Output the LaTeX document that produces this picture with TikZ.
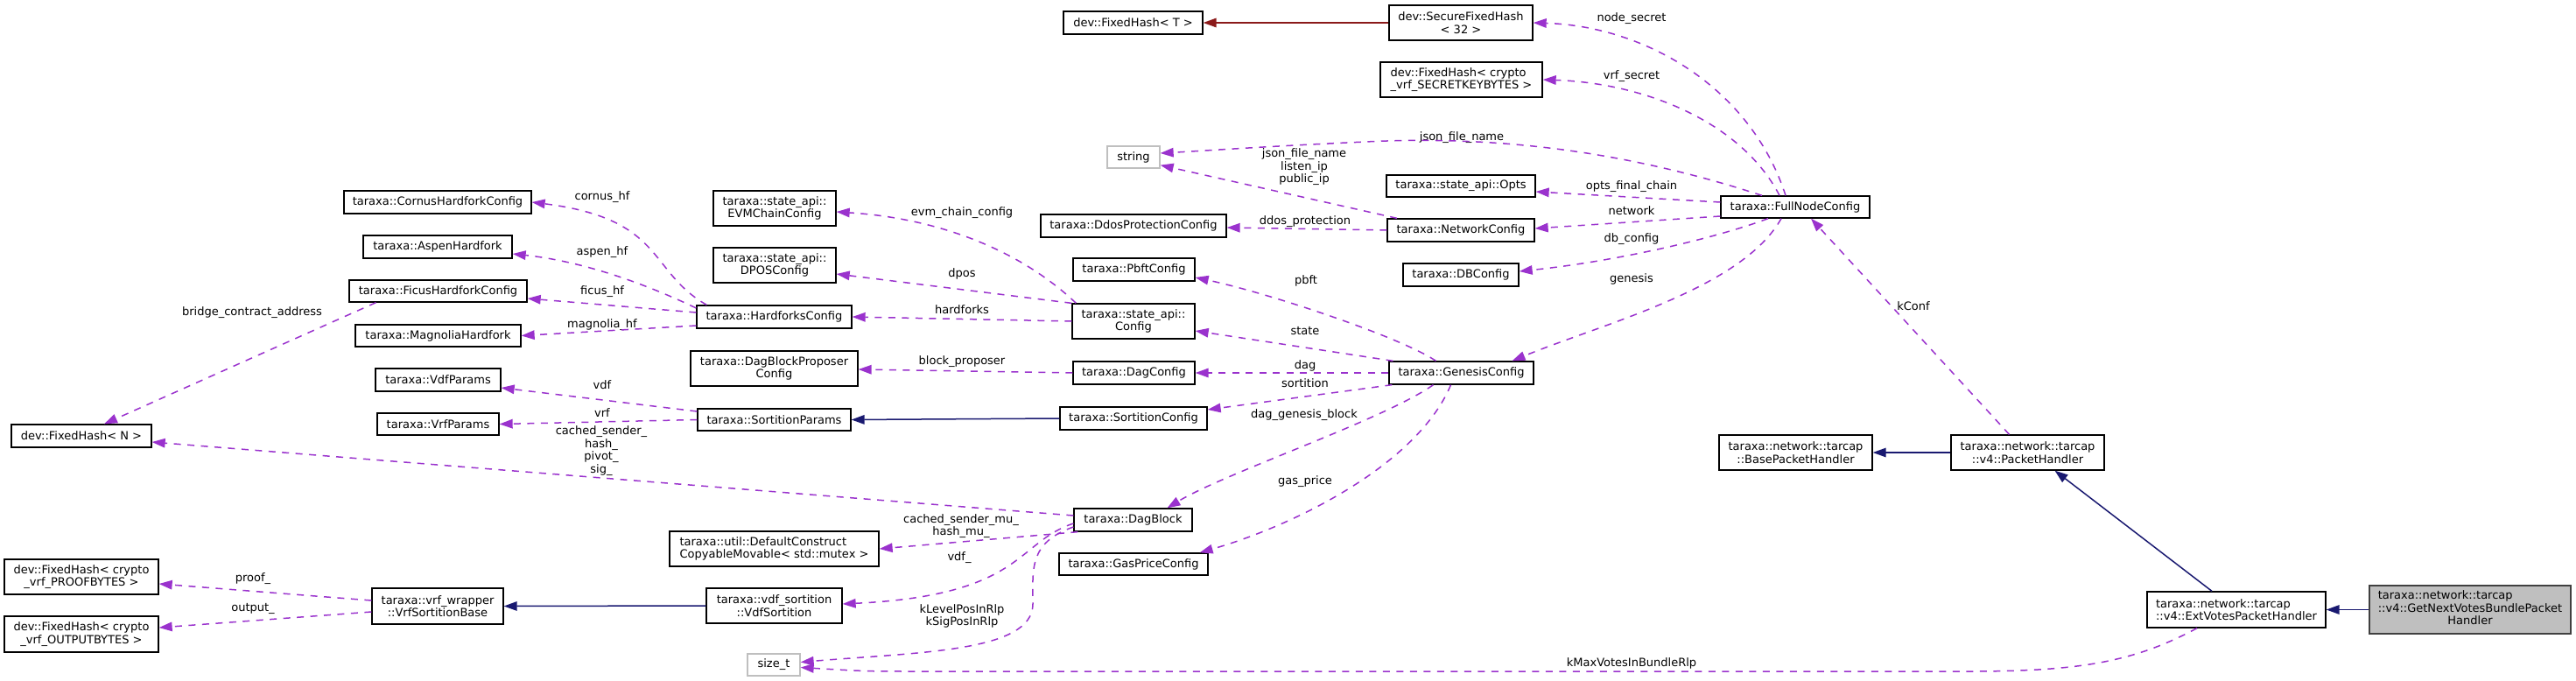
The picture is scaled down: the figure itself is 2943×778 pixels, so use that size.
\documentclass[tikz,border=0pt]{standalone}
\usepackage{fontspec}
\setmainfont{DejaVu Sans}
\usetikzlibrary{arrows.meta}
\definecolor{UseOrchid}{HTML}{9A32CD}
\definecolor{BaseNavy}{HTML}{191970}
\definecolor{TmplRed}{HTML}{8B1A1A}
\definecolor{BoxGray}{HTML}{BFBFBF}
\definecolor{BoxEdge}{HTML}{404040}

\begin{document}
\begin{tikzpicture}[x=1pt,y=-1pt,
    cls/.style={draw=black,line width=1.3pt,fill=white,inner sep=0pt,align=center,font=\fontsize{13}{14.5}\selectfont},
    clsl/.style={cls,align=left},
    extcls/.style={cls,draw=BoxGray},
    curcls/.style={cls,fill=BoxGray,draw=BoxEdge},
    lbl/.style={inner sep=0pt,align=center,font=\fontsize{13}{14.5}\selectfont},
    member/.style={UseOrchid,line width=1.5pt,dash pattern=on 8pt off 7.5pt,-{Triangle[length=15pt,width=10.5pt]}},
    isa/.style={BaseNavy,line width=1.5pt,-{Triangle[length=15pt,width=10.5pt]}},
    tmpl/.style={TmplRed,line width=1.5pt,-{Triangle[length=15pt,width=10.5pt]}}]
  \useasboundingbox (0,0) rectangle (2943,778);
  % classes: name/x/y/width/height/style/text
  \foreach \n/\x/\y/\w/\h/\s/\t in {
      fht/1294.5/26/159/26/cls/{dev::FixedHash< T >},
      sfh/1669/26/164/40/cls/{dev::SecureFixedHash\\< 32 >},
      fhsk/1669.5/91/185/40/clsl/{dev::FixedHash< crypto\\\_vrf\_SECRETKEYBYTES >},
      str/1295/179.5/60/25/extcls/{string},
      opts/1669/212.5/170/25/cls/{taraxa::state\_api::Opts},
      netcfg/1669/263/168/26/cls/{taraxa::NetworkConfig},
      fullnode/2051/236.5/170/25/cls/{taraxa::FullNodeConfig},
      dbcfg/1669/314/132/26/cls/{taraxa::DBConfig},
      ddos/1295/258/212/26/cls/{taraxa::DdosProtectionConfig},
      pbft/1295.5/308/139/26/cls/{taraxa::PbftConfig},
      stcfg/1295/367/140/40/cls/{taraxa::state\_api::\\Config},
      evm/885/238/140/40/cls/{taraxa::state\_api::\\EVMChainConfig},
      dposcfg/885/303/140/40/cls/{taraxa::state\_api::\\DPOSConfig},
      hardforks/884.5/362/177/26/cls/{taraxa::HardforksConfig},
      cornus/500/231/214/26/cls/{taraxa::CornusHardforkConfig},
      aspen/500/282/170/26/cls/{taraxa::AspenHardfork},
      ficus/500.5/332.5/203/25/cls/{taraxa::FicusHardforkConfig},
      magnolia/500.5/383.5/189/25/cls/{taraxa::MagnoliaHardfork},
      vdfparams/500.5/434/143/26/cls/{taraxa::VdfParams},
      vrfparams/500.5/484.5/139/25/cls/{taraxa::VrfParams},
      fhn/93/498/160/26/cls/{dev::FixedHash< N >},
      proofb/93/659/176/40/cls/{dev::FixedHash< crypto\\\_vrf\_PROOFBYTES >},
      outb/93/724.5/176/41/cls/{dev::FixedHash< crypto\\\_vrf\_OUTPUTBYTES >},
      vrfbase/500/692.5/150/41/cls/{taraxa::vrf\_wrapper\\::VrfSortitionBase},
      propcfg/884.5/421/191/40/cls/{taraxa::DagBlockProposer\\Config},
      dagcfg/1295.5/426/139/26/cls/{taraxa::DagConfig},
      sortparams/884.5/479.5/175/25/cls/{taraxa::SortitionParams},
      sortcfg/1295/478/168/26/cls/{taraxa::SortitionConfig},
      genesis/1669.5/426/165/26/cls/{taraxa::GenesisConfig},
      dagblock/1294.5/594/135/26/cls/{taraxa::DagBlock},
      mutexcfg/884.5/627/239/40/clsl/{taraxa::util::DefaultConstruct\\CopyableMovable< std::mutex >},
      gasprice/1295/644.5/170/25/cls/{taraxa::GasPriceConfig},
      vdfsort/884.5/692/155/40/cls/{taraxa::vdf\_sortition\\::VdfSortition},
      sizet/884/759.5/60/25/extcls/{size\_t},
      basehandler/2051.5/517/175/40/cls/{taraxa::network::tarcap\\::BasePacketHandler},
      pkthandler/2316.5/517/175/40/cls/{taraxa::network::tarcap\\::v4::PacketHandler},
      exthandler/2555/696.5/204/41/clsl/{taraxa::network::tarcap\\::v4::ExtVotesPacketHandler},
      getnext/2822/696.5/230/55/curcls/{\begin{tabular}{@{}l@{}}taraxa::network::tarcap\\::v4::GetNextVotesBundlePacket\\\multicolumn{1}{@{}c@{}}{Handler}\end{tabular}}}
    \node[\s,minimum width=\w pt,minimum height=\h pt] (\n) at (\x,\y) {\t};
  % member names
  \foreach \n/\x/\y/\t in {
      lnodesecret/1864/21/{node\_secret},
      lvrfsecret/1864/87/{vrf\_secret},
      ljson/1670/157/{json\_file\_name},
      lnetstr/1490/191/{json\_file\_name\\listen\_ip\\public\_ip},
      lopts/1864/213/{opts\_final\_chain},
      lnetwork/1864/241/{network},
      lddos/1491/253/{ddos\_protection},
      ldb/1864/273/{db\_config},
      lgenesis/1864/319/{genesis},
      lkconf/2186/350/{kConf},
      lpbft/1492/321/{pbft},
      lstate/1491/378/{state},
      ldag/1491/418/{dag},
      lsortition/1491/438/{sortition},
      ldaggen/1490/474/{dag\_genesis\_block},
      lgas/1491/550/{gas\_price},
      levm/1099/243/{evm\_chain\_config},
      ldpos/1099/313/{dpos},
      lhardforks/1099/354/{hardforks},
      lproposer/1099/413/{block\_proposer},
      lmutex/1098/601/{cached\_sender\_mu\_\\hash\_mu\_},
      lvdfsort/1096/637/{vdf\_},
      lrlp/1099/704/{kLevelPosInRlp\\kSigPosInRlp},
      lmaxvotes/1864/758/{kMaxVotesInBundleRlp},
      lcornus/688/225/{cornus\_hf},
      laspen/688/288/{aspen\_hf},
      lficus/688/333/{ficus\_hf},
      lmagnolia/688/371/{magnolia\_hf},
      lvdf/688/440/{vdf},
      lvrf/688/472/{vrf},
      lhashes/687/515/{cached\_sender\_\\hash\_\\pivot\_\\sig\_},
      lbridge/288/357/{bridge\_contract\_address},
      lproof/289/661/{proof\_},
      loutput/289/695/{output\_}}
    \node[lbl] (\n) at (\x,\y) {\t};
  % template instance
  \draw[tmpl] (sfh.west) -- (fht.east);
  % FullNodeConfig
  \draw[member] ([xshift=-11pt]fullnode.north) .. controls (2000,100) and (1880,30) .. (sfh.east);
  \draw[member] ([xshift=-18pt]fullnode.north) .. controls (1990,140) and (1880,95) .. (fhsk.east);
  \draw[member] ([xshift=-38pt]fullnode.north) .. controls (1850,170) and (1700,155) .. (1560,162) .. controls (1450,167) and (1380,172) .. ([yshift=4.5pt]str.east);
  \draw[member] ([yshift=5.5pt]fullnode.west) -- ([yshift=-6.5pt]opts.east);
  \draw[member] ([yshift=-10.5pt]fullnode.west) -- ([yshift=2pt]netcfg.east);
  \draw[member] ([xshift=-31pt]fullnode.south) .. controls (1960,272) and (1850,298) .. ([yshift=4pt]dbcfg.east);
  \draw[member] ([xshift=-16pt]fullnode.south) .. controls (1990,330) and (1830,370) .. ([xshift=58pt]genesis.north);
  % NetworkConfig
  \draw[member] ([xshift=-73pt]netcfg.north) -- ([yshift=4pt]str.south east);
  \draw[member] (netcfg.west) -- ([yshift=-2pt]ddos.east);
  % GenesisConfig
  \draw[member] ([xshift=-29pt]genesis.north) .. controls (1600,385) and (1450,335) .. ([yshift=-9pt]pbft.east);
  \draw[member] ([xshift=-78pt]genesis.north) -- ([yshift=-11pt]stcfg.east);
  \draw[member] (genesis.west) -- (dagcfg.east);
  \draw[member] ([xshift=4pt]genesis.south west) -- ([yshift=10pt]sortcfg.east);
  \draw[member] ([xshift=-32pt]genesis.south) .. controls (1580,480) and (1400,540) .. ([xshift=39pt]dagblock.north);
  \draw[member] ([xshift=-12pt]genesis.south) .. controls (1620,530) and (1480,600) .. ([xshift=-10pt]gasprice.north east);
  % state_api::Config
  \draw[member] ([xshift=5pt]stcfg.north west) .. controls (1170,290) and (1080,250) .. ([yshift=-4pt]evm.east);
  \draw[member] (stcfg.north west) -- ([yshift=-10pt]dposcfg.east);
  \draw[member] (stcfg.west) -- (hardforks.east);
  % HardforksConfig
  \draw[member] ([xshift=12pt]hardforks.north west) .. controls (740,310) and (760,250) .. (cornus.east);
  \draw[member] ([yshift=10pt]hardforks.west) .. controls (760,335) and (680,300) .. ([yshift=-8pt]aspen.east);
  \draw[member] ([yshift=5pt]hardforks.west) -- ([yshift=-8.5pt]ficus.east);
  \draw[member] ([yshift=-10pt]hardforks.west) -- (magnolia.east);
  \draw[member] ([xshift=-71pt]ficus.south) -- ([xshift=26pt]fhn.north);
  % DagConfig, SortitionConfig
  \draw[member] (dagcfg.west) -- ([yshift=-1pt]propcfg.east);
  \draw[isa] (sortcfg.west) -- (sortparams.east);
  \draw[member] ([yshift=9.5pt]sortparams.west) -- ([yshift=-9pt]vdfparams.east);
  \draw[member] (sortparams.west) -- (vrfparams.east);
  % DagBlock
  \draw[member] ([yshift=5pt]dagblock.west) -- ([yshift=-7pt]fhn.east);
  \draw[member] ([xshift=5pt]dagblock.south west) -- (mutexcfg.east);
  \draw[member] ([yshift=-4pt]dagblock.west) .. controls (1160,620) and (1170,680) .. ([yshift=2pt]vdfsort.east);
  \draw[member] ([yshift=-8pt]dagblock.west) .. controls (1175,620) and (1180,650) .. (1180,690) .. controls (1180,745) and (1050,745) .. ([yshift=3pt]sizet.east);
  % vdf / vrf
  \draw[isa] (vdfsort.west) -- (vrfbase.east);
  \draw[member] ([yshift=6.5pt]vrfbase.west) -- ([yshift=-8pt]proofb.east);
  \draw[member] ([yshift=-6.5pt]vrfbase.west) -- ([yshift=7.5pt]outb.east);
  % packet handlers
  \draw[isa] (pkthandler.west) -- (basehandler.east);
  \draw[member] ([xshift=-21pt]pkthandler.north) -- ([xshift=18pt]fullnode.south);
  \draw[isa] ([xshift=-28pt]exthandler.north) -- ([xshift=31pt]pkthandler.south);
  \draw[member] ([xshift=-45pt]exthandler.south) .. controls (2440,755) and (2380,767) .. (2250,767) -- (1050,767) .. controls (990,767) .. ([yshift=-3pt]sizet.east);
  \draw[isa] (getnext.west) -- (exthandler.east);
\end{tikzpicture}
\end{document}
